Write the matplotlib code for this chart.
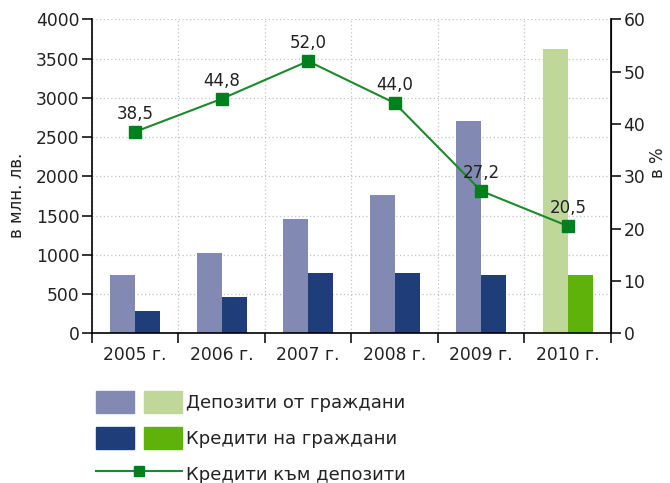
import matplotlib
matplotlib.use("Agg")
import matplotlib.pyplot as plt
import numpy as np
from matplotlib.patches import Patch
from matplotlib.lines import Line2D
from matplotlib.legend_handler import HandlerTuple

years = ["2005 г.", "2006 г.", "2007 г.", "2008 г.", "2009 г.", "2010 г."]
deposits = [740, 1020, 1450, 1760, 2700, 3620]
credits = [280, 460, 770, 770, 740, 740]
ratio = [38.5, 44.8, 52.0, 44.0, 27.2, 20.5]
ratio_labels = ["38,5", "44,8", "52,0", "44,0", "27,2", "20,5"]
dep_colors = ["#8289b3"] * 5 + ["#bfd89a"]
cred_colors = ["#1f3d78"] * 5 + ["#5eb20a"]

plt.rcParams['font.family'] = ['DejaVu Sans']
txt = "#222222"
tfs = 12.3

fig = plt.figure(figsize=(6.7, 4.83), dpi=100)
ax = fig.add_axes([0.137, 0.310, 0.775, 0.650])
ax2 = ax.twinx()

x = np.arange(len(years))
w = 0.29
ax.bar(x - w / 2, deposits, w, color=dep_colors, zorder=2)
ax.bar(x + w / 2, credits, w, color=cred_colors, zorder=2)

ax.set_xlim(-0.5, len(years) - 0.5)
ax.set_ylim(0, 4000)
ax.set_yticks(np.arange(0, 4001, 500))
ax.set_xticks(np.arange(-0.5, len(years), 1.0))
ax.set_xticklabels([])
ax.set_xticks(x, minor=True)
ax.set_xticklabels(years, minor=True)
ax.tick_params(axis='x', which='minor', length=0, pad=9, labelsize=tfs, labelcolor=txt)
ax.tick_params(axis='x', which='major', length=7, width=1.1)
ax.tick_params(axis='y', length=7, width=1.1, labelsize=tfs, labelcolor=txt, pad=2)
ax.grid(True, which='major', color="#c4c4c4", linestyle=(0, (1, 2)), linewidth=0.9, zorder=0)
ax.set_axisbelow(True)
for s in ['left', 'bottom']:
    ax.spines[s].set_linewidth(1.2)
ax.spines['top'].set_visible(False)
ax.set_ylabel("в млн. лв.", fontsize=12, color=txt)
ax.yaxis.set_label_coords(-0.127, 0.44)

ax2.set_ylim(0, 60)
ax2.set_yticks(np.arange(0, 61, 10))
ax2.tick_params(axis='y', length=7, width=1.1, labelsize=tfs, labelcolor=txt, pad=2)
ax2.spines['right'].set_linewidth(1.2)
ax2.spines['top'].set_visible(False)
ax2.spines['left'].set_visible(False)
ax2.spines['bottom'].set_visible(False)
ax2.set_ylabel("в %", fontsize=12, color=txt)
ax2.yaxis.set_label_coords(1.074, 0.542)

ax2.plot(x, ratio, color="#1a8a2a", linewidth=1.5, marker='s', markersize=8,
         markerfacecolor="#007f1f", markeredgecolor="#007f1f", zorder=3)
for xi, v, lab in zip(x, ratio, ratio_labels):
    ax2.annotate(lab, (xi, v), xytext=(0, 6.5), textcoords='offset points',
                 ha='center', va='bottom', fontsize=12, color=txt)

h1 = (Patch(color=dep_colors[0]), Patch(color=dep_colors[-1]))
h2 = (Patch(color=cred_colors[0]), Patch(color=cred_colors[-1]))
h3 = Line2D([], [], color="#1a8a2a", linewidth=1.5, marker='s', markersize=7,
            markerfacecolor="#007f1f", markeredgecolor="#007f1f")
fs = 13
fpx = fs * 100 / 72
hh = (22 / fpx - 0.245) / 0.65
leg = fig.legend([h1, h2, h3], ["Депозити от граждани", "Кредити на граждани", "Кредити към депозити"],
                 handler_map={tuple: HandlerTuple(ndivide=None, pad=10 / fpx)},
                 loc='upper left', bbox_to_anchor=(96 / 670, 1 - 391 / 483),
                 frameon=False, fontsize=fs, handlelength=86 / fpx, handleheight=hh,
                 handletextpad=4 / fpx, labelspacing=14 / fpx, borderpad=0, borderaxespad=0,
                 labelcolor=txt, numpoints=1)

fig.savefig("out.png", dpi=100)
